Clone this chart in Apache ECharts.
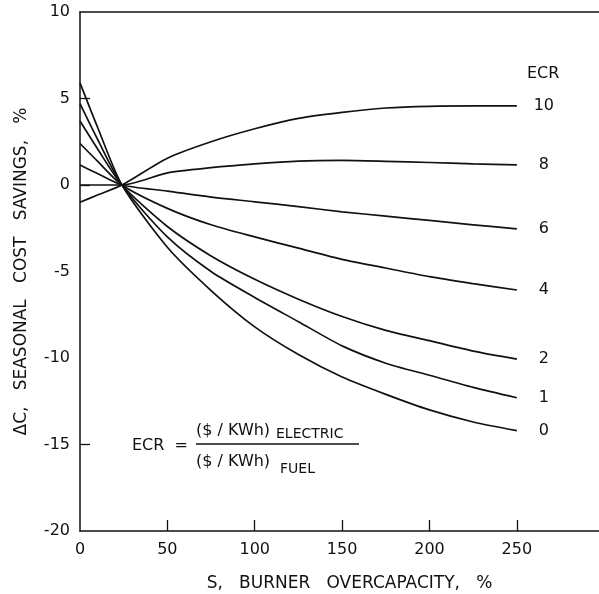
<!DOCTYPE html>
<html lang="en">
<head>
  <meta charset="utf-8">
  <title>ECR chart</title>
  <script src="https://cdn.jsdelivr.net/npm/echarts@6/dist/echarts.min.js"></script>
  <style>
    html, body { margin: 0; padding: 0; background: #fff; }
    #container { width: 599px; height: 594px; }
  </style>
</head>
<body>
<div id="container"></div>
<script>
  // burner overcapacity S, %
  var sValues = [0, 10, 24, 50, 75, 100, 125, 150, 175, 200, 225, 250];

  // seasonal cost savings for each ECR curve, %
  var ecr0  = [5.9, 3.35, 0, -3.6, -6.1, -8.2, -9.8, -11.1, -12.1, -13.0, -13.7, -14.2];
  var ecr1  = [4.7, 2.65, 0, -3.0, -5.0, -6.5, -7.9, -9.3, -10.3, -11.0, -11.7, -12.3];
  var ecr2  = [3.7, 2.1, 0, -2.4, -4.1, -5.45, -6.6, -7.6, -8.4, -9.0, -9.6, -10.06];
  var ecr4  = [2.4, 1.38, 0, -1.35, -2.3, -3.0, -3.65, -4.3, -4.8, -5.3, -5.7, -6.07];
  var ecr6  = [1.15, 0.66, 0, -0.35, -0.7, -0.97, -1.25, -1.55, -1.8, -2.05, -2.3, -2.54];
  var ecr8  = [0, 0, 0, 0.7, 1.0, 1.22, 1.38, 1.42, 1.37, 1.3, 1.22, 1.16];
  var ecr10 = [-1.0, -0.58, 0, 1.55, 2.5, 3.25, 3.85, 4.2, 4.45, 4.55, 4.57, 4.57];

  var curveNames = ['0', '1', '2', '4', '6', '8', '10'];
  var curveData = [ecr0, ecr1, ecr2, ecr4, ecr6, ecr8, ecr10];

  var xLabels = [0, 50, 100, 150, 200, 250];
  var xTicks = [50, 100, 150, 200, 250];
  var yLabels = [-20, -15, -10, -5, 0, 5, 10];
  var yTicks = [5, 0, -15];

  var ink = '#111';
  var font = 'DejaVu Sans';

  var series = curveNames.map(function (name, i) {
    return {
      name: name,
      type: 'line',
      smooth: 0.25,
      symbol: 'none',
      lineStyle: { color: ink, width: 1.7 },
      data: sValues.map(function (s, j) { return [s, curveData[i][j]]; }),
      endLabel: {
        show: true,
        formatter: '{a}',
        color: ink,
        fontFamily: font,
        fontSize: 16,
        align: 'center',
        distance: 27
      }
    };
  });

  var myChart = echarts.init(document.getElementById('container'), null, { renderer: 'canvas' });

  var axisLineStyle = { color: ink, width: 1.5 };

  var option = {
    backgroundColor: '#fff',
    animation: false,
    grid: { left: 80, right: 0, top: 12, bottom: 63, outerBoundsMode: 'none' },
    xAxis: [{
      type: 'value',
      min: 0,
      max: 297,
      name: 'S,   BURNER   OVERCAPACITY,   %',
      nameLocation: 'middle',
      nameGap: 44,
      nameTextStyle: { color: ink, fontFamily: font, fontSize: 17, padding: [0, 0, 0, 20] },
      splitLine: { show: false },
      axisLine: { show: true, onZero: false, lineStyle: axisLineStyle },
      axisTick: { inside: true, length: 11, lineStyle: { color: ink, width: 1.3 }, customValues: xTicks },
      axisLabel: { color: ink, fontFamily: font, fontSize: 16, margin: 11, customValues: xLabels }
    }, {
      type: 'value',
      position: 'top',
      min: 0,
      max: 297,
      splitLine: { show: false },
      axisLine: { show: true, onZero: false, lineStyle: axisLineStyle },
      axisTick: { show: false },
      axisLabel: { show: false }
    }],
    yAxis: {
      type: 'value',
      min: -20,
      max: 10,
      interval: 5,
      name: 'ΔC,   SEASONAL   COST   SAVINGS,   %',
      nameLocation: 'middle',
      nameRotate: 90,
      nameGap: 50,
      nameTextStyle: { color: ink, fontFamily: font, fontSize: 17 },
      splitLine: { show: false },
      axisLine: { show: true, onZero: false, lineStyle: axisLineStyle },
      axisTick: { inside: true, length: 10, lineStyle: { color: ink, width: 1.3 }, customValues: yTicks },
      axisLabel: { color: ink, fontFamily: font, fontSize: 16, margin: 10, customValues: yLabels }
    },
    graphic: [
      { type: 'text', left: 527, top: 66, style: { text: 'ECR', fill: ink, font: '16px "DejaVu Sans"' } },
      { type: 'text', left: 132, top: 438, style: { text: 'ECR  =', fill: ink, font: '16px "DejaVu Sans"' } },
      { type: 'text', left: 196, top: 423, style: { text: '($ / KWh)', fill: ink, font: '16px "DejaVu Sans"' } },
      { type: 'text', left: 276, top: 427, style: { text: 'ELECTRIC', fill: ink, font: '14px "DejaVu Sans"' } },
      { type: 'line', shape: { x1: 196, y1: 444, x2: 359, y2: 444 }, style: { stroke: ink, lineWidth: 1.3 } },
      { type: 'text', left: 196, top: 454, style: { text: '($ / KWh)', fill: ink, font: '16px "DejaVu Sans"' } },
      { type: 'text', left: 280, top: 462, style: { text: 'FUEL', fill: ink, font: '14px "DejaVu Sans"' } }
    ],
    series: series
  };

  myChart.setOption(option);
</script>
</body>
</html>
